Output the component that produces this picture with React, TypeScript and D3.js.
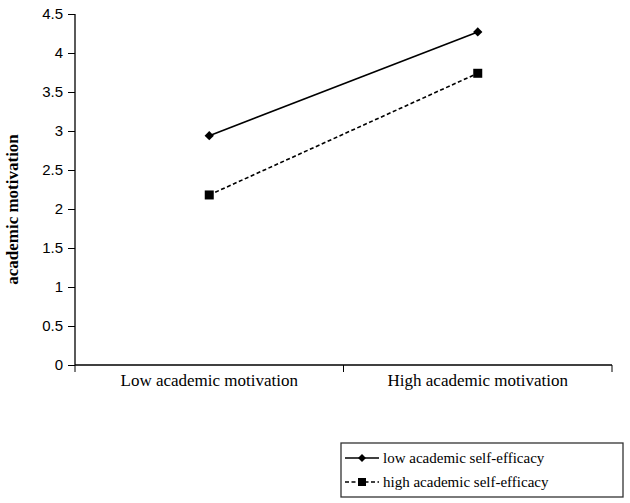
import React, { useEffect, useRef } from 'react';
import * as d3 from 'd3';

const categories = ['Low academic motivation', 'High academic motivation'];
const lowEfficacy = [2.94, 4.27];
const highEfficacy = [2.18, 3.74];
const yTicks = [0, 0.5, 1, 1.5, 2, 2.5, 3, 3.5, 4, 4.5];
const seriesNames = ['low academic self-efficacy', 'high academic self-efficacy'];

const App = () => {
    const ref = useRef<SVGSVGElement>(null);

    const width = 630;
    const height = 503;
    const plot_x0 = 75;
    const plot_x1 = 612;
    const plot_y0 = 14;
    const plot_y1 = 365;

    useEffect(() => {
        const svg = d3.select(ref.current);
        svg.selectAll('*').remove();

        const xScale = d3.scaleBand<string>()
            .domain(categories)
            .range([plot_x0, plot_x1]);

        const yScale = d3.scaleLinear()
            .domain([0, 4.5])
            .range([plot_y1, plot_y0]);

        // y axis
        const yAxis = svg.append('g')
            .attr('transform', `translate(${plot_x0},0)`)
            .call(d3.axisLeft(yScale).tickValues(yTicks).tickSize(7).tickPadding(5).tickFormat(d3.format('')));
        yAxis.select('.domain').attr('stroke', '#000').attr('stroke-width', 1.3).attr('d', `M0,${plot_y0}V${plot_y1}`);
        yAxis.selectAll('line').attr('stroke', '#000');
        yAxis.selectAll('text')
            .style('font-family', '"Liberation Sans", Arial, sans-serif')
            .style('font-size', '15px')
            .attr('fill', '#000');

        // x axis with ticks at band edges
        const xg = svg.append('g').attr('transform', `translate(0,${plot_y1})`);
        xg.append('line')
            .attr('x1', plot_x0).attr('x2', plot_x1)
            .attr('stroke', '#000').attr('stroke-width', 1.3);
        const edges = [plot_x0, ...categories.map(c => (xScale(c) as number) + xScale.bandwidth())];
        xg.selectAll('.xtick')
            .data(edges)
            .enter().append('line')
            .attr('class', 'xtick')
            .attr('x1', d => d).attr('x2', d => d)
            .attr('y1', 0).attr('y2', 7)
            .attr('stroke', '#000');
        xg.selectAll('.xlabel')
            .data(categories)
            .enter().append('text')
            .attr('class', 'xlabel')
            .attr('x', d => (xScale(d) as number) + xScale.bandwidth() / 2)
            .attr('y', 21)
            .attr('text-anchor', 'middle')
            .style('font-family', '"Liberation Serif", "Times New Roman", serif')
            .style('font-size', '17px')
            .text(d => d);

        // y label
        svg.append('text')
            .attr('transform', `translate(18,${(plot_y0 + plot_y1) / 2 + 20}) rotate(-90)`)
            .attr('text-anchor', 'middle')
            .style('font-family', '"Liberation Serif", "Times New Roman", serif')
            .style('font-size', '17px')
            .style('font-weight', 'bold')
            .text('academic motivation');

        const cx = (c: string) => (xScale(c) as number) + xScale.bandwidth() / 2;
        const line = d3.line<number>()
            .x((d, i) => cx(categories[i]))
            .y(d => yScale(d));

        // low efficacy: solid + diamond
        svg.append('path')
            .attr('d', line(lowEfficacy))
            .attr('fill', 'none')
            .attr('stroke', '#000')
            .attr('stroke-width', 1.6);
        const diamond = d3.symbol().type(d3.symbolDiamond2).size(55);
        svg.selectAll('.diamond')
            .data(lowEfficacy)
            .enter().append('path')
            .attr('class', 'diamond')
            .attr('transform', (d, i) => `translate(${cx(categories[i])},${yScale(d)})`)
            .attr('d', diamond())
            .attr('fill', '#000');

        // high efficacy: dashed + square
        svg.append('path')
            .attr('d', line(highEfficacy))
            .attr('fill', 'none')
            .attr('stroke', '#000')
            .attr('stroke-width', 1.6)
            .attr('stroke-dasharray', '4,2.5');
        svg.selectAll('.square')
            .data(highEfficacy)
            .enter().append('rect')
            .attr('class', 'square')
            .attr('x', (d, i) => cx(categories[i]) - 4.5)
            .attr('y', d => yScale(d) - 4.5)
            .attr('width', 9)
            .attr('height', 9)
            .attr('fill', '#000');

        // legend
        const legend = svg.append('g').attr('transform', 'translate(341,443)');
        legend.append('rect')
            .attr('width', 282)
            .attr('height', 54)
            .attr('fill', '#fff')
            .attr('stroke', '#333')
            .attr('stroke-width', 1.3);
        const rows = legend.selectAll('.row')
            .data(seriesNames)
            .enter().append('g')
            .attr('class', 'row')
            .attr('transform', (d, i) => `translate(0,${15 + i * 24})`);
        rows.append('line')
            .attr('x1', 4).attr('x2', 38)
            .attr('stroke', '#000')
            .attr('stroke-width', 1.6)
            .attr('stroke-dasharray', (d, i) => (i === 1 ? '4,2.5' : null));
        rows.each(function (d, i) {
            const g = d3.select(this);
            if (i === 0) {
                g.append('path').attr('transform', 'translate(21,0)').attr('d', d3.symbol().type(d3.symbolDiamond2).size(40)()).attr('fill', '#000');
            } else {
                g.append('rect').attr('x', 17).attr('y', -4).attr('width', 8).attr('height', 8).attr('fill', '#000');
            }
        });
        rows.append('text')
            .attr('x', 42)
            .attr('y', 5)
            .style('font-family', '"Liberation Serif", "Times New Roman", serif')
            .style('font-size', '15px')
            .text(d => d);
    }, []);

    return (
        <svg ref={ref} width={width} height={height}
            style={{ position: 'absolute', left: 0, top: 0, background: '#fff' }} />
    );
};

export default App;
